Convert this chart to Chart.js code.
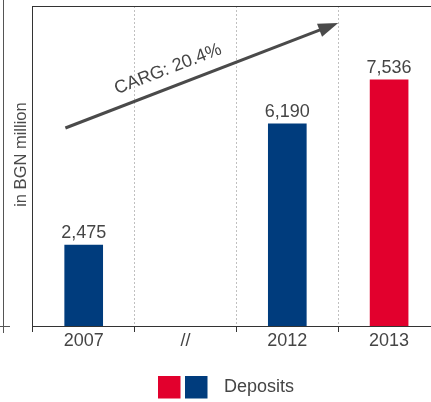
<!DOCTYPE html>
<html>
<head>
<meta charset="utf-8">
<script src="https://cdn.jsdelivr.net/npm/chart.js@4/dist/chart.umd.min.js"></script>
<style>
  html, body { margin: 0; padding: 0; overflow: hidden; background: #fff; width: 431px; height: 402px; }
  #wrap { position: absolute; left: 0; top: 0; width: 440px; height: 402px; }
</style>
</head>
<body>
<div id="wrap"><canvas id="c" width="440" height="402"></canvas></div>
<script>
// ---- data ----
const categories = ['2007', '//', '2012', '2013'];
const deposits = [2475, null, 6190, 7536];
const barColors = ['#003c7d', '#003c7d', '#003c7d', '#e2002d'];
const legendColors = ['#e2002d', '#003c7d'];
const seriesName = 'Deposits';
const yTitle = 'in BGN million';
const yMax = 9800;
const cagrLabel = 'CARG: 20.4%';
const arrowStart = [-0.18, 6064];   // [category index, value]
const arrowEnd = [2.5, 9280];

const FONT = "'Liberation Sans', Arial, sans-serif";
const W = '400';
const TEXT = '#454545';

const extras = {
  id: 'extras',
  afterDatasetsDraw(chart) {
    const {ctx, chartArea, scales} = chart;
    const x = scales.x, y = scales.y;
    ctx.save();
    // value labels
    ctx.font = W + ' 18px ' + FONT;
    ctx.fillStyle = TEXT;
    ctx.textAlign = 'center';
    ctx.textBaseline = 'alphabetic';
    chart.getDatasetMeta(0).data.forEach((bar, i) => {
      const v = deposits[i];
      if (v == null) return;
      ctx.fillText(v.toLocaleString('en-US'), bar.x, bar.y - 7);
    });
    // arrow
    const x1 = x.getPixelForValue(arrowStart[0]), y1 = y.getPixelForValue(arrowStart[1]);
    const x2 = x.getPixelForValue(arrowEnd[0]), y2 = y.getPixelForValue(arrowEnd[1]);
    const ang = Math.atan2(y2 - y1, x2 - x1);
    const headLen = 20, headW = 7;
    const bx = x2 - headLen * Math.cos(ang), by = y2 - headLen * Math.sin(ang);
    ctx.strokeStyle = '#4a4a4a';
    ctx.fillStyle = '#4a4a4a';
    ctx.lineWidth = 3;
    ctx.beginPath();
    ctx.moveTo(x1, y1);
    ctx.lineTo(bx + 2 * Math.cos(ang), by + 2 * Math.sin(ang));
    ctx.stroke();
    ctx.beginPath();
    ctx.moveTo(x2, y2);
    ctx.lineTo(bx + headW * Math.sin(ang), by - headW * Math.cos(ang));
    ctx.lineTo(bx - headW * Math.sin(ang), by + headW * Math.cos(ang));
    ctx.closePath();
    ctx.fill();
    // CAGR text
    const t = 0.40, off = 18;
    const px = x1 + (x2 - x1) * t + off * Math.sin(ang);
    const py = y1 + (y2 - y1) * t - off * Math.cos(ang);
    ctx.translate(px, py);
    ctx.rotate(ang);
    ctx.font = W + ' 18px ' + FONT;
    ctx.fillStyle = TEXT;
    ctx.textAlign = 'center';
    ctx.textBaseline = 'middle';
    ctx.fillText(cagrLabel, 0, 0);
    ctx.restore();
  },
  afterDraw(chart) {
    const {ctx, chartArea} = chart;
    ctx.save();
    ctx.strokeStyle = '#333333';
    ctx.lineWidth = 1;
    // top frame line
    ctx.beginPath();
    ctx.moveTo(chartArea.left, chartArea.top + 0.5);
    ctx.lineTo(chart.width, chartArea.top + 0.5);
    ctx.stroke();
    // remnant of neighbouring chart frame
    ctx.strokeStyle = '#555555';
    ctx.beginPath();
    ctx.moveTo(3.5, 0);
    ctx.lineTo(3.5, chartArea.bottom + 7);
    ctx.moveTo(0, chartArea.bottom + 0.5);
    ctx.lineTo(10, chartArea.bottom + 0.5);
    ctx.stroke();
    // legend
    const lx = 158, ly = 376, s = 22.5;
    ctx.fillStyle = legendColors[0];
    ctx.fillRect(lx, ly, s, s);
    ctx.fillStyle = legendColors[1];
    ctx.fillRect(lx + 27, ly, s, s);
    ctx.font = W + ' 18px ' + FONT;
    ctx.fillStyle = TEXT;
    ctx.textAlign = 'left';
    ctx.textBaseline = 'middle';
    ctx.fillText(seriesName, 224, ly + s / 2);
    ctx.restore();
  }
};

new Chart(document.getElementById('c'), {
  type: 'bar',
  data: {
    labels: categories,
    datasets: [{
      label: seriesName,
      data: deposits,
      backgroundColor: barColors,
      barThickness: 38,
      borderWidth: 0
    }]
  },
  options: {
    responsive: false,
    devicePixelRatio: 1,
    animation: false,
    layout: { padding: { left: 5, top: 6, right: 0, bottom: 52 } },
    plugins: { legend: { display: false }, tooltip: { enabled: false } },
    scales: {
      x: {
        offset: true,
        grid: {
          offset: true,
          color: (c) => (c.index === 0 ? 'rgba(0,0,0,0)' : '#c0c0c0'),
          lineWidth: 1,
          drawTicks: true,
          tickLength: 6,
          tickColor: '#333333',
          tickWidth: 1,
          tickBorderDash: []
        },
        border: { display: true, color: '#333333', width: 1, dash: [2, 2] },
        ticks: {
          color: TEXT,
          padding: 0,
          font: { family: FONT, size: 18, weight: W, lineHeight: 1 }
        }
      },
      y: {
        min: 0,
        max: yMax,
        grid: { display: false, drawTicks: false },
        border: { display: true, color: '#333333', width: 1 },
        ticks: { display: false },
        title: {
          display: true,
          text: '\u00a0\u00a0\u00a0\u00a0\u00a0' + yTitle,
          color: '#4a4a4a',
          padding: { top: 7, bottom: 1 },
          font: { family: FONT, size: 16.5, weight: W, lineHeight: 1.2 }
        }
      }
    }
  },
  plugins: [extras]
});
</script>
</body>
</html>
